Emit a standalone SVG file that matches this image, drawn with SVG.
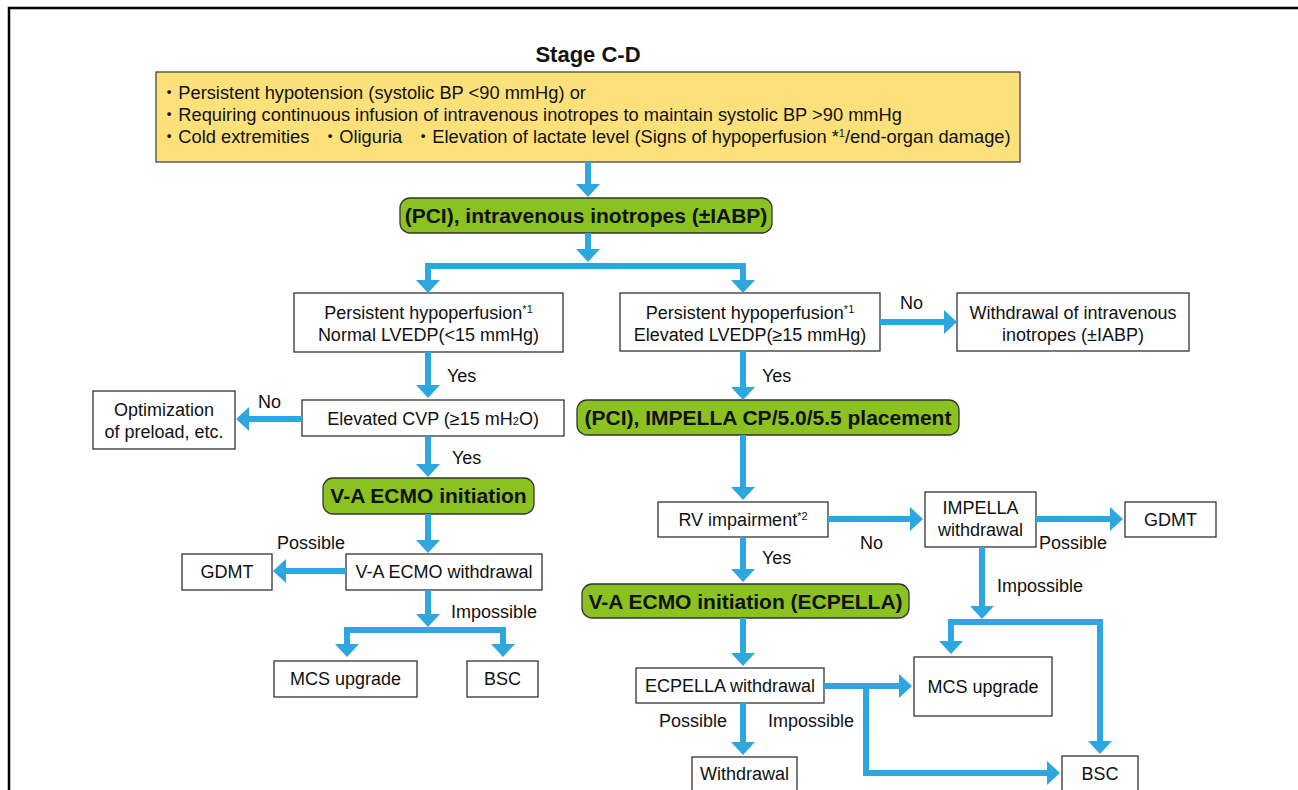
<svg xmlns="http://www.w3.org/2000/svg" width="1298" height="790" viewBox="0 0 1298 790">
<defs>
<marker id="ah" markerUnits="userSpaceOnUse" markerWidth="14" markerHeight="26" refX="0" refY="12" orient="auto-start-reverse" viewBox="0 0 14 24">
<path d="M0,0 L13,12 L0,24 Z" fill="#2ea7e0"/>
</marker>
</defs>
<style>
text{font-family:"Liberation Sans",Arial,"Noto Sans CJK JP",sans-serif;font-size:18px;fill:#111}
.c{text-anchor:middle}
.b{font-weight:bold}
.y{font-size:18.3px}
.g{font-size:21px;font-weight:bold;text-anchor:middle}
.box{fill:#fff;stroke:#333;stroke-width:1.3}
.gr{fill:#8cc21f;stroke:#333;stroke-width:1.3}
.con path{fill:none;stroke:#2ea7e0;stroke-width:6;stroke-linejoin:miter}
.sup{font-size:11px}
</style>
<path d="M9,790 V8 H1298" fill="none" stroke="#000" stroke-width="2.5"/>
<text x="588" y="62" class="c b" style="font-size:22px">Stage C-D</text>

<g id="criteria">
<rect x="156" y="72" width="864" height="90" fill="#fce17b" stroke="#444" stroke-width="1.3"/>
<text class="y" x="160" y="99">・Persistent hypotension (systolic BP &lt;90 mmHg) or</text>
<text class="y" x="160" y="121">・Requiring continuous infusion of intravenous inotropes to maintain systolic BP &gt;90 mmHg</text>
<text class="y" y="143"><tspan x="160">・Cold extremities</tspan><tspan x="321">・Oliguria</tspan><tspan x="414">・Elevation of lactate level (Signs of hypoperfusion *<tspan class="sup" dy="-6">1</tspan><tspan dy="6">/end-organ damage)</tspan></tspan></text>
</g>

<g id="pci-inotropes">
<rect class="gr" x="400" y="198" width="372" height="35" rx="10"/>
<text x="586" y="223" class="g">(PCI), intravenous inotropes (±IABP)</text>
</g>

<g id="normal-lvedp">
<rect class="box" x="294" y="293" width="269" height="59"/>
<text x="428.5" y="319" class="c">Persistent hypoperfusion<tspan class="sup" dy="-6">*1</tspan></text>
<text x="428.5" y="341" class="c">Normal LVEDP(&lt;15 mmHg)</text>
</g>

<g id="elevated-lvedp">
<rect class="box" x="620" y="293" width="260" height="58"/>
<text x="750" y="319" class="c">Persistent hypoperfusion<tspan class="sup" dy="-6">*1</tspan></text>
<text x="750" y="341" class="c">Elevated LVEDP(≥15 mmHg)</text>
</g>

<g id="withdraw-inotropes">
<rect class="box" x="957" y="293" width="232" height="58"/>
<text x="1073" y="319" class="c">Withdrawal of intravenous</text>
<text x="1073" y="341" class="c">inotropes (±IABP)</text>
</g>

<g id="elevated-cvp">
<rect class="box" x="302" y="400" width="262" height="36"/>
<text x="433" y="425" class="c">Elevated CVP (≥15 mH<tspan class="sup">2</tspan>O)</text>
</g>

<g id="optimization">
<rect class="box" x="93" y="391" width="142" height="58"/>
<text x="164" y="416" class="c">Optimization</text>
<text x="164" y="438" class="c">of preload, etc.</text>
</g>

<g id="va-ecmo">
<rect class="gr" x="323" y="478" width="211" height="36" rx="10"/>
<text x="428.5" y="503" class="g">V-A ECMO initiation</text>
</g>

<g id="va-ecmo-withdrawal">
<rect class="box" x="346" y="554" width="196" height="36"/>
<text x="444" y="578" class="c">V-A ECMO withdrawal</text>
</g>

<g id="gdmt-left">
<rect class="box" x="182" y="554" width="90" height="36"/>
<text x="227" y="578" class="c">GDMT</text>
</g>

<g id="mcs-left">
<rect class="box" x="274" y="661" width="143" height="36"/>
<text x="345.5" y="685" class="c">MCS upgrade</text>
</g>

<g id="bsc-left">
<rect class="box" x="467" y="661" width="71" height="36"/>
<text x="502.5" y="685" class="c">BSC</text>
</g>

<g id="impella-placement">
<rect class="gr" x="577" y="400" width="382" height="35" rx="10"/>
<text x="768" y="425" class="g">(PCI), IMPELLA CP/5.0/5.5 placement</text>
</g>

<g id="rv-impairment">
<rect class="box" x="658" y="502" width="170" height="35"/>
<text x="743" y="526" class="c">RV impairment<tspan class="sup" dy="-6">*2</tspan></text>
</g>

<g id="impella-withdrawal">
<rect class="box" x="925" y="492" width="111" height="55"/>
<text x="980.5" y="514" class="c">IMPELLA</text>
<text x="980.5" y="536" class="c">withdrawal</text>
</g>

<g id="gdmt-right">
<rect class="box" x="1125" y="502" width="91" height="35"/>
<text x="1170.5" y="526" class="c">GDMT</text>
</g>

<g id="ecpella">
<rect class="gr" x="582" y="584" width="327" height="34" rx="10"/>
<text x="745.5" y="609" class="g">V-A ECMO initiation (ECPELLA)</text>
</g>

<g id="ecpella-withdrawal">
<rect class="box" x="636" y="668" width="188" height="35"/>
<text x="730" y="692" class="c">ECPELLA withdrawal</text>
</g>

<g id="mcs-right">
<rect class="box" x="914" y="657" width="138" height="59"/>
<text x="983" y="693" class="c">MCS upgrade</text>
</g>

<g id="withdrawal">
<rect class="box" x="692" y="757" width="105" height="45"/>
<text x="744.5" y="780" class="c">Withdrawal</text>
</g>

<g id="bsc-right">
<rect class="box" x="1062" y="756" width="76" height="46"/>
<text x="1100" y="780" class="c">BSC</text>
</g>

<g id="connectors" class="con">
<path d="M588,162 V184" marker-end="url(#ah)"/>
<path d="M588,233 V249" marker-end="url(#ah)"/>
<path d="M428,280 V266 H743 V280" marker-start="url(#ah)" marker-end="url(#ah)"/>
<path d="M428,352 V385" marker-end="url(#ah)"/>
<path d="M743,351 V387" marker-end="url(#ah)"/>
<path d="M880,322 H944" marker-end="url(#ah)"/>
<path d="M302,419 H249" marker-end="url(#ah)"/>
<path d="M428,436 V464" marker-end="url(#ah)"/>
<path d="M428,514 V540" marker-end="url(#ah)"/>
<path d="M346,571 H286" marker-end="url(#ah)"/>
<path d="M428,590 V614" marker-end="url(#ah)"/>
<path d="M347,644 V630 H503 V644" marker-start="url(#ah)" marker-end="url(#ah)"/>
<path d="M743,435 V487" marker-end="url(#ah)"/>
<path d="M828,519 H910" marker-end="url(#ah)"/>
<path d="M743,537 V569" marker-end="url(#ah)"/>
<path d="M1036,519 H1110" marker-end="url(#ah)"/>
<path d="M982,547 V606" marker-end="url(#ah)"/>
<path d="M951,641 V622 H1100 V741" marker-start="url(#ah)" marker-end="url(#ah)"/>
<path d="M743,618 V653" marker-end="url(#ah)"/>
<path d="M824,686 H899" marker-end="url(#ah)"/>
<path d="M866,686 V773 H1047" marker-end="url(#ah)"/>
<path d="M743,703 V742" marker-end="url(#ah)"/>
</g>

<g id="labels">
<text x="447" y="382">Yes</text>
<text x="762" y="382">Yes</text>
<text x="900" y="309">No</text>
<text x="258" y="408">No</text>
<text x="452" y="464">Yes</text>
<text x="277" y="549">Possible</text>
<text x="451" y="618">Impossible</text>
<text x="860" y="549">No</text>
<text x="762" y="564">Yes</text>
<text x="1039" y="549">Possible</text>
<text x="997" y="592">Impossible</text>
<text x="659" y="727">Possible</text>
<text x="768" y="727">Impossible</text>
</g>
</svg>
